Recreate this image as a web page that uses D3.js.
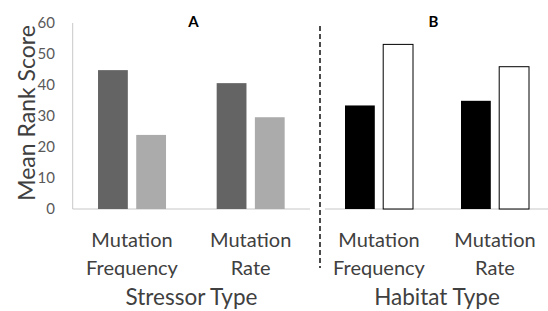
<!DOCTYPE html>
<html>
<head>
<meta charset="utf-8">
<script src="https://cdn.jsdelivr.net/npm/d3@7"></script>
<style>
  body { margin: 0; background: #fff; }
  text { font-family: Lato, "Open Sans", sans-serif; fill: #404040; }
</style>
</head>
<body>
<svg id="viz" width="548" height="311"></svg>
<script>
// data
var categories = ["Mutation Frequency", "Mutation Rate"];
var stressorValues = [[44.8, 23.9], [40.6, 29.6]];
var habitatValues = [[33.4, 53.1], [34.9, 45.9]];
var yTicks = [0, 10, 20, 30, 40, 50, 60];
var panelTitles = ["A", "B"];
var axisTitles = ["Stressor Type", "Habitat Type"];

var svg = d3.select("#viz");

var y = d3.scaleLinear().domain([0, 60]).range([209, 23]);

var panels = [
  { values: stressorValues, range: [72.7, 310], line: [72.7, 310], colors: ["#646464", "#ababab"], stroke: ["none", "none"], titleX: 193.5, title: panelTitles[0], axisTitle: axisTitles[0], axisTitleX: 191.5 },
  { values: habitatValues, range: [321, 553], line: [325, 548], colors: ["#000", "#fff"], stroke: ["none", "#000"], titleX: 433.5, title: panelTitles[1], axisTitle: axisTitles[1], axisTitleX: 437 }
];

// y axis
svg.append("line")
  .attr("x1", 72.7).attr("x2", 72.7)
  .attr("y1", y(60)).attr("y2", y(0))
  .attr("stroke", "#c8c8c8").attr("stroke-width", 1);

svg.selectAll(".ytick")
  .data(yTicks)
  .enter().append("text")
    .attr("class", "ytick")
    .attr("x", 55)
    .attr("y", d => y(d))
    .attr("dy", "0.36em")
    .attr("text-anchor", "end")
    .style("font-size", "15px")
    .style("fill", "#595959")
    .text(d => d);

svg.append("text")
  .attr("transform", "translate(35," + ((y(0) + y(60)) / 2 - 3) + ") rotate(-90)")
  .attr("text-anchor", "middle")
  .style("font-size", "23px")
  .style("fill", "#404040")
  .text("Mean Rank Score");

panels.forEach(function(p) {
  var x0 = d3.scaleBand().domain(categories).range(p.range).padding(0);
  var x1 = d3.scaleBand().domain([0, 1]).range([-34, 34]).paddingInner(0.22);

  // baseline
  svg.append("line")
    .attr("x1", p.line[0]).attr("x2", p.line[1])
    .attr("y1", y(0)).attr("y2", y(0))
    .attr("stroke", "#c8c8c8").attr("stroke-width", 1.2);

  var g = svg.append("g");
  g.selectAll("g")
    .data(categories)
    .enter().append("g")
      .attr("transform", d => "translate(" + (x0(d) + x0.bandwidth() / 2) + ",0)")
    .selectAll("rect")
    .data((d, i) => p.values[i])
    .enter().append("rect")
      .attr("x", (d, j) => x1(j))
      .attr("y", d => y(d))
      .attr("width", x1.bandwidth())
      .attr("height", d => y(0) - y(d))
      .attr("fill", (d, j) => p.colors[j])
      .attr("stroke", (d, j) => p.stroke[j])
      .attr("stroke-width", 1);

  // category labels
  categories.forEach(function(c) {
    var cx = x0(c) + x0.bandwidth() / 2;
    var parts = c.split(" ");
    svg.append("text")
      .attr("x", cx).attr("y", 247)
      .attr("text-anchor", "middle")
      .style("font-size", "20px")
      .text(parts[0]);
    svg.append("text")
      .attr("x", cx).attr("y", 275)
      .attr("text-anchor", "middle")
      .style("font-size", "20px")
      .text(parts[1]);
  });

  svg.append("text")
    .attr("x", p.axisTitleX).attr("y", 305)
    .attr("text-anchor", "middle")
    .style("font-size", "22.5px")
    .text(p.axisTitle);

  svg.append("text")
    .attr("x", p.titleX).attr("y", 27)
    .attr("text-anchor", "middle")
    .style("font-size", "15px")
    .style("font-weight", "bold")
    .style("fill", "#000")
    .text(p.title);
});

// dashed divider
svg.append("line")
  .attr("x1", 320).attr("x2", 320)
  .attr("y1", 26).attr("y2", 268)
  .attr("stroke", "#111").attr("stroke-width", 1.5)
  .attr("stroke-dasharray", "5,3");
</script>
</body>
</html>
